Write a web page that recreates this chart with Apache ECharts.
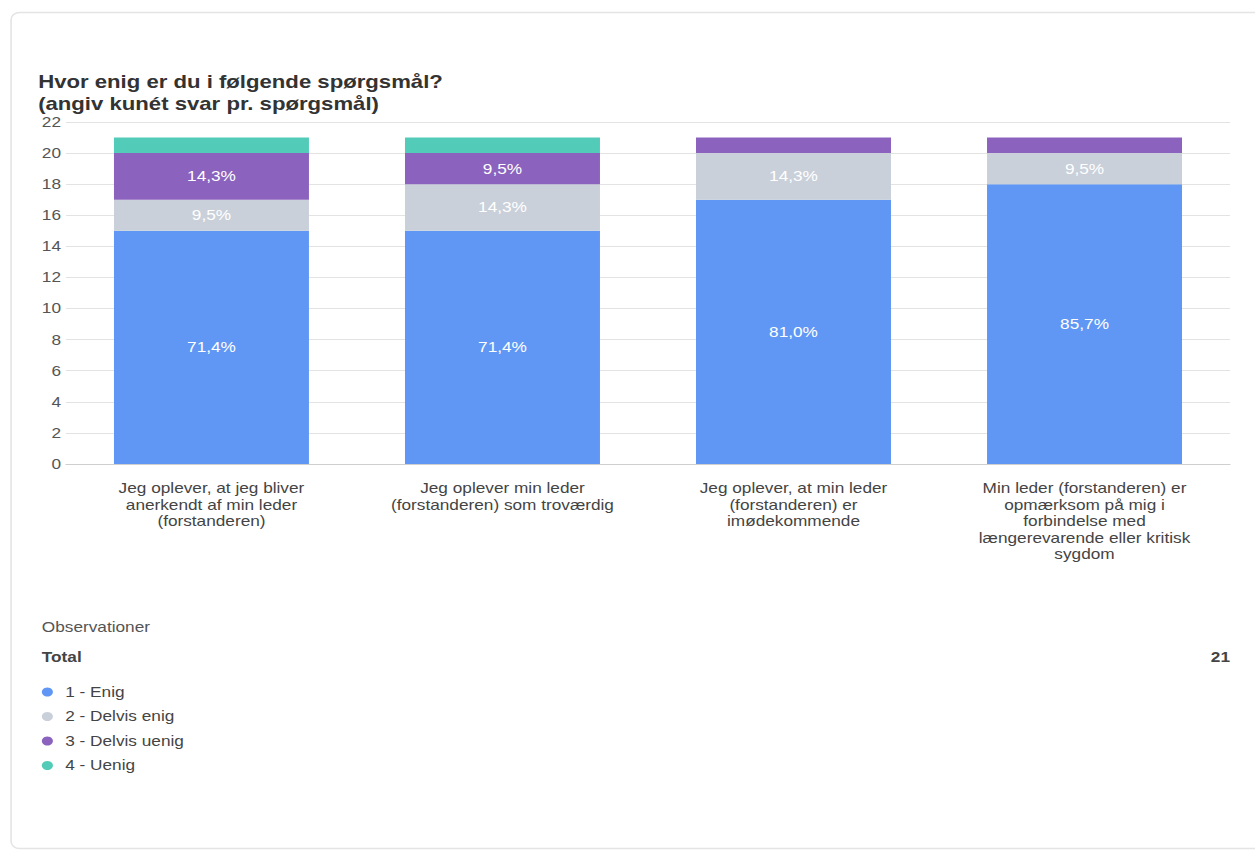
<!DOCTYPE html>
<html>
<head>
<meta charset="utf-8">
<script src="https://cdn.jsdelivr.net/npm/echarts@6/dist/echarts.min.js"></script>
<style>
  html, body { margin: 0; padding: 0; background: #fff; overflow: hidden; }
  /* the report card is laid out slightly wide: the chart is drawn at a
     narrower width and stretched horizontally to fill the 1255px frame */
  #chart { width: 1020px; height: 850px; transform: scaleX(1.2304); transform-origin: 0 0; }
</style>
</head>
<body>
<div id="chart"></div>
<script>
// Survey questions (x-axis categories)
const categories = [
  'Jeg oplever, at jeg bliver\nanerkendt af min leder\n(forstanderen)',
  'Jeg oplever min leder\n(forstanderen) som troværdig',
  'Jeg oplever, at min leder\n(forstanderen) er\nimødekommende',
  'Min leder (forstanderen) er\nopmærksom på mig i\nforbindelse med\nlængerevarende eller kritisk\nsygdom'
];

// Answer counts per question
const enig = [15, 15, 17, 18];
const delvisEnig = [2, 3, 3, 2];
const delvisUenig = [3, 2, 1, 1];
const uenig = [1, 1, 0, 0];

const seriesNames = ['1 - Enig', '2 - Delvis enig', '3 - Delvis uenig', '4 - Uenig'];
const colors = ['#6097F4', '#C9D0DA', '#8B62BD', '#52CBB8'];
const totalResponses = 21;
const yTicks = { min: 0, max: 22, interval: 2 };

const chart = echarts.init(document.getElementById('chart'), null, { renderer: 'svg' });
const font = '"Liberation Sans", Arial, Helvetica, sans-serif';

function pct(v) {
  return (v / totalResponses * 100).toFixed(1).replace('.', ',') + '%';
}

const seriesData = [enig, delvisEnig, delvisUenig, uenig];

chart.setOption({
  animation: false,
  color: colors,
  textStyle: { fontFamily: font },
  title: {
    text: 'Hvor enig er du i følgende spørgsmål?\n(angiv kunét svar pr. spørgsmål)',
    left: 31,
    top: 71,
    padding: 0,
    textStyle: { fontFamily: font, fontSize: 18, fontWeight: 'bold', color: '#333', lineHeight: 22 }
  },
  grid: { left: 53.6, right: 20.3, top: 122, bottom: 386 },
  xAxis: {
    type: 'category',
    data: categories,
    axisTick: { show: false },
    axisLine: { lineStyle: { color: '#cfcfcf' } },
    axisLabel: { color: '#444', fontSize: 14, lineHeight: 16.5, margin: 16, interval: 0, fontFamily: font }
  },
  yAxis: {
    type: 'value',
    min: yTicks.min,
    max: yTicks.max,
    interval: yTicks.interval,
    axisLine: { show: false },
    axisTick: { show: false },
    splitLine: { lineStyle: { color: '#e3e3e3' } },
    axisLabel: { color: '#555', fontSize: 14, margin: 4, fontFamily: font }
  },
  legend: {
    orient: 'vertical',
    left: 34,
    top: 685,
    padding: 0,
    icon: 'circle',
    itemWidth: 9,
    itemHeight: 9,
    itemGap: 10.5,
    data: seriesNames,
    selectedMode: false,
    textStyle: { color: '#444', fontSize: 14, lineHeight: 14, fontFamily: font, padding: [0, 0, 0, 5] }
  },
  series: seriesData.map((arr, i) => ({
    name: seriesNames[i],
    type: 'bar',
    stack: 'total',
    barWidth: '67%',
    data: arr,
    label: {
      show: true,
      position: 'inside',
      color: '#fff',
      fontSize: 14,
      fontFamily: font,
      formatter: p => (p.value >= 2 ? pct(p.value) : '')
    }
  })),
  graphic: [
    {
      type: 'rect',
      left: 6.5, top: 10,
      shape: { width: 1030, height: 836, r: 7 },
      style: { fill: 'none', stroke: '#e4e4e4', lineWidth: 1.3 },
      z: -10
    },
    {
      type: 'text', left: 34, top: 620,
      style: { text: 'Observationer', fill: '#555', font: '14px ' + font }
    },
    {
      type: 'text', left: 34, top: 650,
      style: { text: 'Total', fill: '#444', font: 'bold 14px ' + font }
    },
    {
      type: 'text', right: 20.3, top: 650,
      style: { text: String(totalResponses), fill: '#444', font: 'bold 14px ' + font }
    }
  ]
});
</script>
</body>
</html>
